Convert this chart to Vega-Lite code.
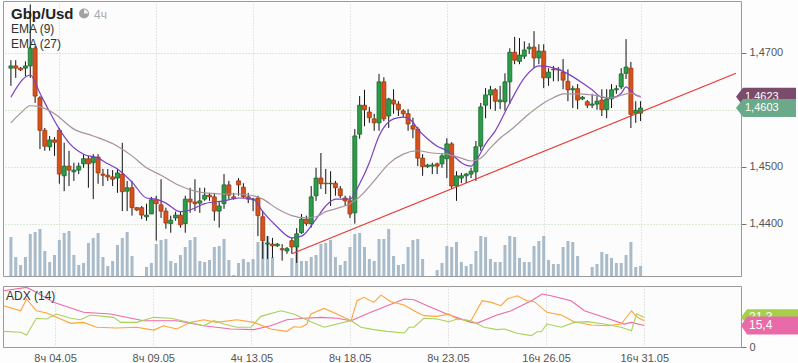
{
"$schema": "https://vega.github.io/schema/vega-lite/v6.json",
"padding": 0,
"background": "#fdfdfd",
"spacing": 7,
"resolve": {"scale": {"color": "independent"}},
"config": {
 "font": "Liberation Sans",
 "view": {"stroke": "#9a9a9a", "fill": "#fcfcfc"},
 "axis": {"labelFont": "Liberation Sans", "labelFontSize": 11, "labelColor": "#555555", "tickColor": "#777777", "gridColor": "#cfcfcf", "gridDash": [1, 2], "title": null}
},
"datasets": {
 "candles": [
{"i":0,"o":1.4673,"h":1.4687,"l":1.4642,"c":1.4677,"v":39},
{"i":1,"o":1.4677,"h":1.4687,"l":1.4656,"c":1.4673,"v":19},
{"i":2,"o":1.4673,"h":1.4675,"l":1.4668,"c":1.4670,"v":11},
{"i":3,"o":1.4673,"h":1.4685,"l":1.4659,"c":1.4677,"v":19},
{"i":4,"o":1.4677,"h":1.4785,"l":1.4656,"c":1.4708,"v":42},
{"i":5,"o":1.4708,"h":1.4712,"l":1.4612,"c":1.4624,"v":44},
{"i":6,"o":1.4621,"h":1.4624,"l":1.4531,"c":1.4564,"v":47},
{"i":7,"o":1.4564,"h":1.4568,"l":1.4528,"c":1.4536,"v":25},
{"i":8,"o":1.4535,"h":1.4554,"l":1.4528,"c":1.4547,"v":14},
{"i":9,"o":1.4547,"h":1.4552,"l":1.4519,"c":1.4543,"v":21},
{"i":10,"o":1.4564,"h":1.4568,"l":1.4470,"c":1.4487,"v":36},
{"i":11,"o":1.4484,"h":1.4542,"l":1.4457,"c":1.4501,"v":43},
{"i":12,"o":1.4501,"h":1.4528,"l":1.4466,"c":1.4494,"v":45},
{"i":13,"o":1.4491,"h":1.4507,"l":1.4475,"c":1.4494,"v":21},
{"i":14,"o":1.4494,"h":1.4507,"l":1.4487,"c":1.4501,"v":11},
{"i":15,"o":1.4505,"h":1.4522,"l":1.4498,"c":1.4514,"v":13},
{"i":16,"o":1.4514,"h":1.4519,"l":1.4463,"c":1.4505,"v":33},
{"i":17,"o":1.4507,"h":1.4522,"l":1.4443,"c":1.4517,"v":38},
{"i":18,"o":1.4517,"h":1.4522,"l":1.4470,"c":1.4489,"v":43},
{"i":19,"o":1.4487,"h":1.4496,"l":1.4466,"c":1.4485,"v":19},
{"i":20,"o":1.4485,"h":1.4496,"l":1.4475,"c":1.4482,"v":10},
{"i":21,"o":1.4482,"h":1.4494,"l":1.4466,"c":1.4478,"v":15},
{"i":22,"o":1.4480,"h":1.4496,"l":1.4454,"c":1.4489,"v":31},
{"i":23,"o":1.4487,"h":1.4542,"l":1.4422,"c":1.4456,"v":38},
{"i":24,"o":1.4457,"h":1.4475,"l":1.4422,"c":1.4463,"v":44},
{"i":25,"o":1.4463,"h":1.4475,"l":1.4414,"c":1.4428,"v":20},
{"i":26,"o":1.4428,"h":1.4429,"l":1.4422,"c":1.4424,"v":0},
{"i":27,"o":1.4428,"h":1.4431,"l":1.4408,"c":1.4415,"v":0},
{"i":28,"o":1.4412,"h":1.4435,"l":1.4405,"c":1.4415,"v":9},
{"i":29,"o":1.4417,"h":1.4447,"l":1.4417,"c":1.4442,"v":13},
{"i":30,"o":1.4442,"h":1.4449,"l":1.4370,"c":1.4435,"v":32},
{"i":31,"o":1.4433,"h":1.4478,"l":1.4410,"c":1.4422,"v":36},
{"i":32,"o":1.4422,"h":1.4428,"l":1.4391,"c":1.4401,"v":37},
{"i":33,"o":1.4400,"h":1.4414,"l":1.4384,"c":1.4406,"v":15},
{"i":34,"o":1.4410,"h":1.4421,"l":1.4405,"c":1.4415,"v":13},
{"i":35,"o":1.4415,"h":1.4422,"l":1.4393,"c":1.4398,"v":21},
{"i":36,"o":1.4400,"h":1.4449,"l":1.4384,"c":1.4443,"v":29},
{"i":37,"o":1.4443,"h":1.4463,"l":1.4419,"c":1.4438,"v":36},
{"i":38,"o":1.4438,"h":1.4478,"l":1.4422,"c":1.4435,"v":39},
{"i":39,"o":1.4436,"h":1.4463,"l":1.4419,"c":1.4440,"v":15},
{"i":40,"o":1.4443,"h":1.4463,"l":1.4440,"c":1.4450,"v":14},
{"i":41,"o":1.4450,"h":1.4454,"l":1.4440,"c":1.4447,"v":16},
{"i":42,"o":1.4447,"h":1.4454,"l":1.4405,"c":1.4422,"v":29},
{"i":43,"o":1.4422,"h":1.4440,"l":1.4393,"c":1.4431,"v":30},
{"i":44,"o":1.4435,"h":1.4487,"l":1.4426,"c":1.4468,"v":37},
{"i":45,"o":1.4468,"h":1.4475,"l":1.4443,"c":1.4450,"v":16},
{"i":46,"o":1.4447,"h":1.4454,"l":1.4442,"c":1.4444,"v":1},
{"i":47,"o":1.4475,"h":1.4480,"l":1.4449,"c":1.4468,"v":13},
{"i":48,"o":1.4464,"h":1.4471,"l":1.4445,"c":1.4447,"v":17},
{"i":49,"o":1.4447,"h":1.4454,"l":1.4436,"c":1.4443,"v":14},
{"i":50,"o":1.4442,"h":1.4445,"l":1.4422,"c":1.4443,"v":17},
{"i":51,"o":1.4445,"h":1.4449,"l":1.4378,"c":1.4414,"v":34},
{"i":52,"o":1.4412,"h":1.4422,"l":1.4338,"c":1.4370,"v":34},
{"i":53,"o":1.4364,"h":1.4378,"l":1.4338,"c":1.4366,"v":40},
{"i":54,"o":1.4364,"h":1.4375,"l":1.4340,"c":1.4361,"v":19},
{"i":55,"o":1.4361,"h":1.4366,"l":1.4359,"c":1.4364,"v":0},
{"i":56,"o":1.4356,"h":1.4364,"l":1.4335,"c":1.4354,"v":0},
{"i":57,"o":1.4352,"h":1.4359,"l":1.4347,"c":1.4356,"v":0},
{"i":58,"o":1.4370,"h":1.4375,"l":1.4347,"c":1.4359,"v":18},
{"i":59,"o":1.4359,"h":1.4392,"l":1.4331,"c":1.4382,"v":39},
{"i":60,"o":1.4384,"h":1.4417,"l":1.4382,"c":1.4408,"v":15},
{"i":61,"o":1.4408,"h":1.4414,"l":1.4396,"c":1.4400,"v":15},
{"i":62,"o":1.4400,"h":1.4466,"l":1.4393,"c":1.4447,"v":19},
{"i":63,"o":1.4449,"h":1.4498,"l":1.4440,"c":1.4480,"v":21},
{"i":64,"o":1.4480,"h":1.4524,"l":1.4461,"c":1.4470,"v":32},
{"i":65,"o":1.4471,"h":1.4496,"l":1.4452,"c":1.4470,"v":33},
{"i":66,"o":1.4470,"h":1.4492,"l":1.4431,"c":1.4471,"v":36},
{"i":67,"o":1.4471,"h":1.4475,"l":1.4449,"c":1.4463,"v":19},
{"i":68,"o":1.4461,"h":1.4466,"l":1.4445,"c":1.4449,"v":11},
{"i":69,"o":1.4445,"h":1.4449,"l":1.4431,"c":1.4440,"v":15},
{"i":70,"o":1.4440,"h":1.4449,"l":1.4410,"c":1.4417,"v":29},
{"i":71,"o":1.4419,"h":1.4566,"l":1.4400,"c":1.4554,"v":42},
{"i":72,"o":1.4557,"h":1.4624,"l":1.4549,"c":1.4608,"v":43},
{"i":73,"o":1.4608,"h":1.4635,"l":1.4571,"c":1.4600,"v":29},
{"i":74,"o":1.4596,"h":1.4605,"l":1.4577,"c":1.4586,"v":17},
{"i":75,"o":1.4584,"h":1.4593,"l":1.4563,"c":1.4577,"v":15},
{"i":76,"o":1.4577,"h":1.4663,"l":1.4563,"c":1.4649,"v":37},
{"i":77,"o":1.4649,"h":1.4657,"l":1.4580,"c":1.4584,"v":37},
{"i":78,"o":1.4589,"h":1.4621,"l":1.4568,"c":1.4619,"v":47},
{"i":79,"o":1.4617,"h":1.4636,"l":1.4593,"c":1.4610,"v":20},
{"i":80,"o":1.4610,"h":1.4615,"l":1.4589,"c":1.4600,"v":11},
{"i":81,"o":1.4598,"h":1.4601,"l":1.4587,"c":1.4593,"v":12},
{"i":82,"o":1.4593,"h":1.4601,"l":1.4563,"c":1.4575,"v":29},
{"i":83,"o":1.4572,"h":1.4586,"l":1.4550,"c":1.4566,"v":36},
{"i":84,"o":1.4566,"h":1.4570,"l":1.4501,"c":1.4515,"v":37},
{"i":85,"o":1.4515,"h":1.4522,"l":1.4484,"c":1.4500,"v":17},
{"i":86,"o":1.4500,"h":1.4505,"l":1.4498,"c":1.4503,"v":0},
{"i":87,"o":1.4501,"h":1.4507,"l":1.4487,"c":1.4503,"v":0},
{"i":88,"o":1.4505,"h":1.4507,"l":1.4487,"c":1.4501,"v":6},
{"i":89,"o":1.4505,"h":1.4524,"l":1.4498,"c":1.4519,"v":13},
{"i":90,"o":1.4514,"h":1.4550,"l":1.4480,"c":1.4540,"v":30},
{"i":91,"o":1.4540,"h":1.4543,"l":1.4461,"c":1.4466,"v":29},
{"i":92,"o":1.4466,"h":1.4492,"l":1.4440,"c":1.4484,"v":34},
{"i":93,"o":1.4480,"h":1.4489,"l":1.4471,"c":1.4484,"v":14},
{"i":94,"o":1.4484,"h":1.4489,"l":1.4471,"c":1.4487,"v":10},
{"i":95,"o":1.4487,"h":1.4498,"l":1.4480,"c":1.4492,"v":12},
{"i":96,"o":1.4491,"h":1.4545,"l":1.4475,"c":1.4535,"v":25},
{"i":97,"o":1.4536,"h":1.4612,"l":1.4528,"c":1.4605,"v":40},
{"i":98,"o":1.4608,"h":1.4638,"l":1.4585,"c":1.4626,"v":39},
{"i":99,"o":1.4626,"h":1.4642,"l":1.4601,"c":1.4635,"v":17},
{"i":100,"o":1.4635,"h":1.4638,"l":1.4598,"c":1.4615,"v":14},
{"i":101,"o":1.4614,"h":1.4642,"l":1.4601,"c":1.4617,"v":14},
{"i":102,"o":1.4614,"h":1.4664,"l":1.4598,"c":1.4649,"v":31},
{"i":103,"o":1.4649,"h":1.4708,"l":1.4610,"c":1.4701,"v":40},
{"i":104,"o":1.4701,"h":1.4728,"l":1.4680,"c":1.4687,"v":39},
{"i":105,"o":1.4685,"h":1.4726,"l":1.4680,"c":1.4696,"v":18},
{"i":106,"o":1.4694,"h":1.4720,"l":1.4689,"c":1.4705,"v":14},
{"i":107,"o":1.4707,"h":1.4717,"l":1.4698,"c":1.4710,"v":14},
{"i":108,"o":1.4710,"h":1.4738,"l":1.4673,"c":1.4691,"v":30},
{"i":109,"o":1.4691,"h":1.4715,"l":1.4680,"c":1.4703,"v":35},
{"i":110,"o":1.4703,"h":1.4715,"l":1.4638,"c":1.4656,"v":40},
{"i":111,"o":1.4656,"h":1.4673,"l":1.4642,"c":1.4666,"v":16},
{"i":112,"o":1.4671,"h":1.4677,"l":1.4650,"c":1.4670,"v":12},
{"i":113,"o":1.4671,"h":1.4675,"l":1.4650,"c":1.4670,"v":12},
{"i":114,"o":1.4666,"h":1.4689,"l":1.4636,"c":1.4652,"v":29},
{"i":115,"o":1.4650,"h":1.4671,"l":1.4615,"c":1.4635,"v":35},
{"i":116,"o":1.4635,"h":1.4642,"l":1.4603,"c":1.4637,"v":34},
{"i":117,"o":1.4637,"h":1.4645,"l":1.4601,"c":1.4617,"v":20},
{"i":118,"o":1.4619,"h":1.4624,"l":1.4617,"c":1.4622,"v":0},
{"i":119,"o":1.4614,"h":1.4617,"l":1.4603,"c":1.4608,"v":0},
{"i":120,"o":1.4608,"h":1.4628,"l":1.4603,"c":1.4610,"v":9},
{"i":121,"o":1.4610,"h":1.4624,"l":1.4600,"c":1.4615,"v":12},
{"i":122,"o":1.4617,"h":1.4636,"l":1.4589,"c":1.4600,"v":24},
{"i":123,"o":1.4600,"h":1.4636,"l":1.4585,"c":1.4619,"v":22},
{"i":124,"o":1.4619,"h":1.4645,"l":1.4603,"c":1.4635,"v":18},
{"i":125,"o":1.4635,"h":1.4643,"l":1.4628,"c":1.4637,"v":13},
{"i":126,"o":1.4640,"h":1.4673,"l":1.4636,"c":1.4663,"v":13},
{"i":127,"o":1.4664,"h":1.4724,"l":1.4654,"c":1.4675,"v":21},
{"i":128,"o":1.4673,"h":1.4684,"l":1.4568,"c":1.4592,"v":34},
{"i":129,"o":1.4594,"h":1.4615,"l":1.4577,"c":1.4599,"v":9},
{"i":130,"o":1.4594,"h":1.4615,"l":1.4580,"c":1.4603,"v":10}
 ],
 "ema": [
{"s":"EMA (9)","i":0,"p":1.4622},{"s":"EMA (9)","i":4,"p":1.4661},{"s":"EMA (9)","i":6,"p":1.4629},{"s":"EMA (9)","i":8,"p":1.4596},{"s":"EMA (9)","i":10,"p":1.4566},{"s":"EMA (9)","i":12,"p":1.4542},{"s":"EMA (9)","i":15,"p":1.4522},{"s":"EMA (9)","i":18,"p":1.4515},{"s":"EMA (9)","i":20,"p":1.4505},{"s":"EMA (9)","i":22,"p":1.4496},{"s":"EMA (9)","i":25,"p":1.4473},{"s":"EMA (9)","i":28,"p":1.4445},{"s":"EMA (9)","i":30,"p":1.4443},{"s":"EMA (9)","i":32,"p":1.4436},{"s":"EMA (9)","i":35,"p":1.4421},{"s":"EMA (9)","i":37,"p":1.4424},{"s":"EMA (9)","i":40,"p":1.4435},{"s":"EMA (9)","i":44,"p":1.4440},{"s":"EMA (9)","i":47,"p":1.4445},{"s":"EMA (9)","i":50,"p":1.4443},{"s":"EMA (9)","i":52,"p":1.4421},{"s":"EMA (9)","i":55,"p":1.4394},{"s":"EMA (9)","i":58,"p":1.4375},{"s":"EMA (9)","i":60,"p":1.4378},{"s":"EMA (9)","i":63,"p":1.4408},{"s":"EMA (9)","i":65,"p":1.4431},{"s":"EMA (9)","i":67,"p":1.4443},{"s":"EMA (9)","i":70,"p":1.4443},{"s":"EMA (9)","i":72,"p":1.4470},{"s":"EMA (9)","i":74,"p":1.4507},{"s":"EMA (9)","i":76,"p":1.4554},{"s":"EMA (9)","i":79,"p":1.4584},{"s":"EMA (9)","i":81,"p":1.4587},{"s":"EMA (9)","i":83,"p":1.4578},{"s":"EMA (9)","i":84,"p":1.4566},{"s":"EMA (9)","i":86,"p":1.4549},{"s":"EMA (9)","i":88,"p":1.4536},{"s":"EMA (9)","i":90,"p":1.4528},{"s":"EMA (9)","i":91,"p":1.4522},{"s":"EMA (9)","i":93,"p":1.4507},{"s":"EMA (9)","i":95,"p":1.4501},{"s":"EMA (9)","i":96,"p":1.4510},{"s":"EMA (9)","i":98,"p":1.4540},{"s":"EMA (9)","i":100,"p":1.4563},{"s":"EMA (9)","i":103,"p":1.4612},{"s":"EMA (9)","i":106,"p":1.4656},{"s":"EMA (9)","i":109,"p":1.4677},{"s":"EMA (9)","i":113,"p":1.4671},{"s":"EMA (9)","i":115,"p":1.4663},{"s":"EMA (9)","i":118,"p":1.4647},{"s":"EMA (9)","i":120,"p":1.4635},{"s":"EMA (9)","i":122,"p":1.4622},{"s":"EMA (9)","i":124,"p":1.4621},{"s":"EMA (9)","i":126,"p":1.4629},{"s":"EMA (9)","i":127,"p":1.4640},{"s":"EMA (9)","i":128,"p":1.4633},{"s":"EMA (9)","i":129,"p":1.4626},{"s":"EMA (9)","i":130,"p":1.4623},
{"s":"EMA (27)","i":0,"p":1.4577},{"s":"EMA (27)","i":2,"p":1.4594},{"s":"EMA (27)","i":4,"p":1.4607},{"s":"EMA (27)","i":6,"p":1.4605},{"s":"EMA (27)","i":9,"p":1.4593},{"s":"EMA (27)","i":13,"p":1.4566},{"s":"EMA (27)","i":17,"p":1.4554},{"s":"EMA (27)","i":22,"p":1.4536},{"s":"EMA (27)","i":25,"p":1.4519},{"s":"EMA (27)","i":28,"p":1.4498},{"s":"EMA (27)","i":31,"p":1.4485},{"s":"EMA (27)","i":35,"p":1.4466},{"s":"EMA (27)","i":38,"p":1.4457},{"s":"EMA (27)","i":40,"p":1.4454},{"s":"EMA (27)","i":44,"p":1.4452},{"s":"EMA (27)","i":47,"p":1.4452},{"s":"EMA (27)","i":50,"p":1.4449},{"s":"EMA (27)","i":52,"p":1.4443},{"s":"EMA (27)","i":55,"p":1.4426},{"s":"EMA (27)","i":58,"p":1.4414},{"s":"EMA (27)","i":61,"p":1.4410},{"s":"EMA (27)","i":63,"p":1.4412},{"s":"EMA (27)","i":65,"p":1.4421},{"s":"EMA (27)","i":67,"p":1.4426},{"s":"EMA (27)","i":70,"p":1.4435},{"s":"EMA (27)","i":72,"p":1.4447},{"s":"EMA (27)","i":75,"p":1.4475},{"s":"EMA (27)","i":78,"p":1.4505},{"s":"EMA (27)","i":81,"p":1.4522},{"s":"EMA (27)","i":84,"p":1.4528},{"s":"EMA (27)","i":87,"p":1.4524},{"s":"EMA (27)","i":90,"p":1.4522},{"s":"EMA (27)","i":93,"p":1.4515},{"s":"EMA (27)","i":95,"p":1.4510},{"s":"EMA (27)","i":97,"p":1.4515},{"s":"EMA (27)","i":99,"p":1.4533},{"s":"EMA (27)","i":101,"p":1.4550},{"s":"EMA (27)","i":103,"p":1.4563},{"s":"EMA (27)","i":107,"p":1.4593},{"s":"EMA (27)","i":110,"p":1.4612},{"s":"EMA (27)","i":112,"p":1.4621},{"s":"EMA (27)","i":114,"p":1.4628},{"s":"EMA (27)","i":117,"p":1.4628},{"s":"EMA (27)","i":120,"p":1.4626},{"s":"EMA (27)","i":124,"p":1.4621},{"s":"EMA (27)","i":127,"p":1.4628},{"s":"EMA (27)","i":128,"p":1.4629},{"s":"EMA (27)","i":130,"p":1.4622}
 ],
 "trend": [{"i":58,"p":1.4347},{"i":149.7,"p":1.4664}],
 "adx": [
{"s":"ADX","i":-0.5,"v":40.2},{"s":"ADX","i":4.2,"v":42.6},{"s":"ADX","i":5.6,"v":40.2},{"s":"ADX","i":9.7,"v":31.9},{"s":"ADX","i":15.8,"v":24.8},{"s":"ADX","i":21.3,"v":23.6},{"s":"ADX","i":28,"v":18.8},{"s":"ADX","i":34.8,"v":18.8},{"s":"ADX","i":40.3,"v":15.2},{"s":"ADX","i":45.8,"v":12.9},{"s":"ADX","i":50.5,"v":12.4},{"s":"ADX","i":53.9,"v":15.2},{"s":"ADX","i":57.2,"v":19.5},{"s":"ADX","i":60.7,"v":20.5},{"s":"ADX","i":64.1,"v":21.2},{"s":"ADX","i":67.4,"v":20.5},{"s":"ADX","i":70.3,"v":18.8},{"s":"ADX","i":74.3,"v":24.8},{"s":"ADX","i":81.1,"v":34.3},{"s":"ADX","i":83.1,"v":33.8},{"s":"ADX","i":85.8,"v":29.5},{"s":"ADX","i":89.8,"v":23.6},{"s":"ADX","i":94.7,"v":17.6},{"s":"ADX","i":96,"v":17.1},{"s":"ADX","i":100,"v":22.9},{"s":"ADX","i":102.9,"v":25.9},{"s":"ADX","i":107,"v":33.1},{"s":"ADX","i":109.2,"v":37.9},{"s":"ADX","i":111,"v":36.6},{"s":"ADX","i":115.1,"v":33.1},{"s":"ADX","i":117.8,"v":25.9},{"s":"ADX","i":121.8,"v":21.2},{"s":"ADX","i":125.9,"v":16.4},{"s":"ADX","i":127.4,"v":17.6},{"s":"ADX","i":130,"v":15.4},
{"s":"+DI","i":-0.5,"v":29.5},{"s":"+DI","i":3,"v":25.9},{"s":"+DI","i":4.2,"v":34.3},{"s":"+DI","i":6.2,"v":25.9},{"s":"+DI","i":8.3,"v":24.3},{"s":"+DI","i":10.3,"v":21.2},{"s":"+DI","i":13.2,"v":16.9},{"s":"+DI","i":15.8,"v":17.6},{"s":"+DI","i":18.5,"v":14.1},{"s":"+DI","i":22.5,"v":13.6},{"s":"+DI","i":26.6,"v":14.1},{"s":"+DI","i":30.1,"v":12.1},{"s":"+DI","i":32.1,"v":15.2},{"s":"+DI","i":34.8,"v":12.9},{"s":"+DI","i":37.6,"v":17.6},{"s":"+DI","i":40.3,"v":19.5},{"s":"+DI","i":42.9,"v":17.6},{"s":"+DI","i":47,"v":19.5},{"s":"+DI","i":50.5,"v":17.6},{"s":"+DI","i":53.9,"v":12.9},{"s":"+DI","i":57.2,"v":11.2},{"s":"+DI","i":58.6,"v":14.5},{"s":"+DI","i":60.1,"v":14.1},{"s":"+DI","i":61.3,"v":16.4},{"s":"+DI","i":62.1,"v":23.6},{"s":"+DI","i":64.8,"v":27.6},{"s":"+DI","i":67.4,"v":23.6},{"s":"+DI","i":70.3,"v":18.8},{"s":"+DI","i":71.5,"v":33.1},{"s":"+DI","i":72.9,"v":35.5},{"s":"+DI","i":74.9,"v":31.9},{"s":"+DI","i":76.4,"v":37.1},{"s":"+DI","i":78.4,"v":32.4},{"s":"+DI","i":81.1,"v":30.0},{"s":"+DI","i":83.1,"v":25.9},{"s":"+DI","i":85.1,"v":22.4},{"s":"+DI","i":87.8,"v":21.9},{"s":"+DI","i":90.2,"v":23.6},{"s":"+DI","i":91.9,"v":20.0},{"s":"+DI","i":94.7,"v":18.8},{"s":"+DI","i":97,"v":33.1},{"s":"+DI","i":98.8,"v":31.9},{"s":"+DI","i":100.8,"v":29.5},{"s":"+DI","i":102.1,"v":34.3},{"s":"+DI","i":104.1,"v":36.6},{"s":"+DI","i":106.1,"v":33.1},{"s":"+DI","i":107.6,"v":32.4},{"s":"+DI","i":110.2,"v":24.8},{"s":"+DI","i":113.1,"v":22.9},{"s":"+DI","i":115.7,"v":18.1},{"s":"+DI","i":119.2,"v":15.7},{"s":"+DI","i":122.5,"v":15.2},{"s":"+DI","i":125.3,"v":16.4},{"s":"+DI","i":127.4,"v":25.9},{"s":"+DI","i":128.6,"v":21.2},{"s":"+DI","i":130,"v":18.8},
{"s":"-DI","i":-0.5,"v":11.2},{"s":"-DI","i":3,"v":10.5},{"s":"-DI","i":4.2,"v":8.6},{"s":"-DI","i":6.2,"v":20.5},{"s":"-DI","i":8.3,"v":20.0},{"s":"-DI","i":10.3,"v":23.6},{"s":"-DI","i":13.2,"v":20.5},{"s":"-DI","i":15.2,"v":19.5},{"s":"-DI","i":17.2,"v":22.9},{"s":"-DI","i":19.9,"v":21.9},{"s":"-DI","i":21.9,"v":21.2},{"s":"-DI","i":23.4,"v":17.6},{"s":"-DI","i":26.6,"v":17.6},{"s":"-DI","i":30.1,"v":21.2},{"s":"-DI","i":33.6,"v":20.5},{"s":"-DI","i":36.8,"v":18.1},{"s":"-DI","i":40.3,"v":15.2},{"s":"-DI","i":42.3,"v":18.8},{"s":"-DI","i":44.4,"v":16.4},{"s":"-DI","i":47,"v":14.1},{"s":"-DI","i":49.9,"v":14.1},{"s":"-DI","i":51.9,"v":21.9},{"s":"-DI","i":56,"v":25.9},{"s":"-DI","i":58.6,"v":23.6},{"s":"-DI","i":62.1,"v":18.1},{"s":"-DI","i":64.8,"v":14.1},{"s":"-DI","i":67.4,"v":16.4},{"s":"-DI","i":70.3,"v":18.8},{"s":"-DI","i":72.3,"v":14.1},{"s":"-DI","i":74.9,"v":12.4},{"s":"-DI","i":77.6,"v":11.2},{"s":"-DI","i":81.1,"v":10.0},{"s":"-DI","i":82.1,"v":14.1},{"s":"-DI","i":83.1,"v":14.1},{"s":"-DI","i":85.1,"v":20.5},{"s":"-DI","i":87.8,"v":20.0},{"s":"-DI","i":90.2,"v":18.1},{"s":"-DI","i":91.9,"v":20.0},{"s":"-DI","i":94.7,"v":18.8},{"s":"-DI","i":97.4,"v":14.1},{"s":"-DI","i":100,"v":12.4},{"s":"-DI","i":101.5,"v":12.9},{"s":"-DI","i":104.1,"v":9.8},{"s":"-DI","i":107,"v":8.1},{"s":"-DI","i":108.2,"v":10.9},{"s":"-DI","i":109,"v":10.9},{"s":"-DI","i":110.2,"v":16.4},{"s":"-DI","i":113.1,"v":14.1},{"s":"-DI","i":115.7,"v":17.6},{"s":"-DI","i":118.4,"v":18.1},{"s":"-DI","i":121.8,"v":16.4},{"s":"-DI","i":125.3,"v":14.1},{"s":"-DI","i":127.4,"v":11.6},{"s":"-DI","i":128.4,"v":23.6},{"s":"-DI","i":130,"v":21.3}
 ]
},
"vconcat": [
 {
  "width": 738,
  "height": 275,
  "resolve": {"scale": {"y": "independent"}},
  "layer": [
   {
    "data": {"name": "candles"},
    "mark": {"type": "bar", "width": 3, "color": "#a9bbc8"},
    "encoding": {
     "x": {"field": "i", "type": "quantitative", "scale": {"domain": [-0.6, 149.7], "nice": false, "zero": false}, "axis": {"values": [10, 30, 50, 70, 90, 110, 130], "grid": true, "labels": false, "ticks": false, "domain": false}},
     "y": {"field": "v", "type": "quantitative", "scale": {"domain": [0, 275], "nice": false}, "axis": null}
    }
   },
   {
    "layer": [
     {
      "data": {"name": "candles"},
      "mark": {"type": "rule", "color": "#111111", "strokeWidth": 1},
      "encoding": {
       "x": {"field": "i", "type": "quantitative", "scale": {"domain": [-0.6, 149.7], "nice": false, "zero": false}},
       "y": {"field": "l", "type": "quantitative", "scale": {"domain": [1.4308, 1.4791], "nice": false, "zero": false}, "axis": {"orient": "right", "values": [1.44, 1.45, 1.46, 1.47], "grid": true, "gridColor": "#bcd6b0", "tickSize": 5, "labelPadding": 3, "domain": false, "labelExpr": "replace(format(datum.value, '.4f'), '.', ',')"}},
       "y2": {"field": "h"}
      }
     },
     {
      "data": {"name": "candles"},
      "mark": {"type": "bar", "width": 4, "strokeWidth": 0.8},
      "encoding": {
       "x": {"field": "i", "type": "quantitative"},
       "y": {"field": "o", "type": "quantitative"},
       "y2": {"field": "c"},
       "fill": {"condition": {"test": "datum.c >= datum.o", "value": "#2f9a4a"}, "value": "#d4521c"},
       "stroke": {"condition": {"test": "datum.c >= datum.o", "value": "#136b2a"}, "value": "#a3360c"}
      }
     },
     {
      "data": {"name": "ema"},
      "mark": {"type": "line", "strokeWidth": 1.2, "interpolate": "monotone"},
      "encoding": {
       "x": {"field": "i", "type": "quantitative"},
       "y": {"field": "p", "type": "quantitative"},
       "color": {"field": "s", "type": "nominal", "scale": {"domain": ["EMA (27)", "EMA (9)"], "range": ["#a8929c", "#7b3fc4"]}, "legend": null}
      }
     },
     {
      "data": {"name": "trend"},
      "mark": {"type": "line", "color": "#e53935", "strokeWidth": 1.2},
      "encoding": {
       "x": {"field": "i", "type": "quantitative"},
       "y": {"field": "p", "type": "quantitative"}
      }
     },
     {
      "data": {"values": [{"p": 1.4623, "t": "1,4623"}]},
      "layer": [
       {"mark": {"type": "point", "shape": "M0,0 L7,-9 L60,-9 L60,9 L7,9 Z", "size": 4, "filled": true, "opacity": 1, "strokeWidth": 0, "color": "#7b4b6b"},
        "encoding": {"x": {"datum": 149.7, "type": "quantitative"}, "y": {"field": "p", "type": "quantitative"}}},
       {"mark": {"type": "text", "align": "left", "baseline": "middle", "dx": 9, "fontSize": 11, "color": "#ffffff"},
        "encoding": {"x": {"datum": 149.7, "type": "quantitative"}, "y": {"field": "p", "type": "quantitative"}, "text": {"field": "t"}}}
      ]
     },
     {
      "data": {"values": [{"p": 1.4603, "t": "1,4603"}]},
      "layer": [
       {"mark": {"type": "point", "shape": "M0,0 L7,-9 L60,-9 L60,9 L7,9 Z", "size": 4, "filled": true, "opacity": 1, "strokeWidth": 0, "color": "#6aaa8a"},
        "encoding": {"x": {"datum": 149.7, "type": "quantitative"}, "y": {"field": "p", "type": "quantitative"}}},
       {"mark": {"type": "text", "align": "left", "baseline": "middle", "dx": 9, "fontSize": 11, "color": "#ffffff"},
        "encoding": {"x": {"datum": 149.7, "type": "quantitative"}, "y": {"field": "p", "type": "quantitative"}, "text": {"field": "t"}}}
      ]
     },
     {
      "data": {"values": [{}]},
      "mark": {"type": "text", "text": "Gbp/Usd", "align": "left", "baseline": "alphabetic", "dx": 3, "dy": 18, "fontSize": 15, "fontWeight": "bold", "color": "#222222"},
      "encoding": {"x": {"datum": -0.6, "type": "quantitative"}, "y": {"datum": 1.4791, "type": "quantitative"}}
     },
     {
      "data": {"values": [{}]},
      "mark": {"type": "text", "text": "4ч", "align": "left", "baseline": "alphabetic", "dx": 86, "dy": 18, "fontSize": 12, "color": "#aaaaaa"},
      "encoding": {"x": {"datum": -0.6, "type": "quantitative"}, "y": {"datum": 1.4791, "type": "quantitative"}}
     },
     {
      "data": {"values": [{}]},
      "mark": {"type": "point", "shape": "circle", "size": 100, "filled": true, "opacity": 1, "color": "#a0a0a0"},
      "encoding": {"x": {"datum": 15.1, "type": "quantitative"}, "y": {"datum": 1.4769, "type": "quantitative"}}
     },
     {
      "data": {"values": [{}]},
      "mark": {"type": "point", "shape": "M0,0 L0,-4 A4,4 0 0,1 4,0 Z", "size": 4, "filled": true, "opacity": 1, "color": "#f4f4f4"},
      "encoding": {"x": {"datum": 15.1, "type": "quantitative"}, "y": {"datum": 1.4769, "type": "quantitative"}}
     },
     {
      "data": {"values": [{}]},
      "mark": {"type": "text", "text": "EMA (9)", "align": "left", "baseline": "alphabetic", "dx": 3, "dy": 32, "fontSize": 12, "color": "#333333"},
      "encoding": {"x": {"datum": -0.6, "type": "quantitative"}, "y": {"datum": 1.4791, "type": "quantitative"}}
     },
     {
      "data": {"values": [{}]},
      "mark": {"type": "text", "text": "EMA (27)", "align": "left", "baseline": "alphabetic", "dx": 3, "dy": 47, "fontSize": 12, "color": "#333333"},
      "encoding": {"x": {"datum": -0.6, "type": "quantitative"}, "y": {"datum": 1.4791, "type": "quantitative"}}
     }
    ]
   }
  ]
 },
 {
  "width": 738,
  "height": 61,
  "layer": [
   {
    "data": {"name": "adx"},
    "mark": {"type": "line", "strokeWidth": 1.1},
    "encoding": {
     "x": {"field": "i", "type": "quantitative", "scale": {"domain": [-0.6, 149.7], "nice": false, "zero": false}, "axis": {"values": [10, 30, 50, 70, 90, 110, 130], "grid": true, "ticks": false, "domain": false, "labelPadding": 5, "labelExpr": "['8ч 04.05','8ч 09.05','4ч 13.05','8ч 18.05','8ч 23.05','16ч 26.05','16ч 31.05'][round((datum.value - 10) / 20)]"}},
     "y": {"field": "v", "type": "quantitative", "scale": {"domain": [0, 43.6], "nice": false}, "axis": {"orient": "right", "values": [0], "grid": false, "tickSize": 5, "domain": false, "labelPadding": 3}},
     "color": {"field": "s", "type": "nominal", "scale": {"domain": ["+DI", "-DI", "ADX"], "range": ["#ffa33a", "#a8d25a", "#ee6aa8"]}, "legend": null}
    }
   },
   {
    "data": {"values": [{"v": 21.3, "t": "21,3"}]},
    "layer": [
     {"mark": {"type": "point", "shape": "M0,0 L6,-8 L60,-8 L60,8 L6,8 Z", "size": 4, "filled": true, "opacity": 1, "strokeWidth": 0, "color": "#a6d04c"},
      "encoding": {"x": {"datum": 149.7, "type": "quantitative"}, "y": {"field": "v", "type": "quantitative"}}},
     {"mark": {"type": "text", "align": "left", "baseline": "middle", "dx": 8, "fontSize": 12, "color": "#ffffff"},
      "encoding": {"x": {"datum": 149.7, "type": "quantitative"}, "y": {"field": "v", "type": "quantitative"}, "text": {"field": "t"}}}
    ]
   },
   {
    "data": {"values": [{"v": 15.4, "t": "15,4"}]},
    "layer": [
     {"mark": {"type": "point", "shape": "M0,0 L6,-9 L60,-9 L60,9 L6,9 Z", "size": 4, "filled": true, "opacity": 1, "strokeWidth": 0, "color": "#e96aa8"},
      "encoding": {"x": {"datum": 149.7, "type": "quantitative"}, "y": {"field": "v", "type": "quantitative"}}},
     {"mark": {"type": "text", "align": "left", "baseline": "middle", "dx": 8, "fontSize": 12, "color": "#ffffff"},
      "encoding": {"x": {"datum": 149.7, "type": "quantitative"}, "y": {"field": "v", "type": "quantitative"}, "text": {"field": "t"}}}
    ]
   },
   {
    "data": {"values": [{}]},
    "mark": {"type": "text", "text": "ADX (14)", "align": "left", "baseline": "alphabetic", "dx": 3, "dy": 14, "fontSize": 12, "color": "#333333"},
    "encoding": {"x": {"datum": -0.6, "type": "quantitative"}, "y": {"datum": 43.6, "type": "quantitative"}}
   }
  ]
 }
]
}
